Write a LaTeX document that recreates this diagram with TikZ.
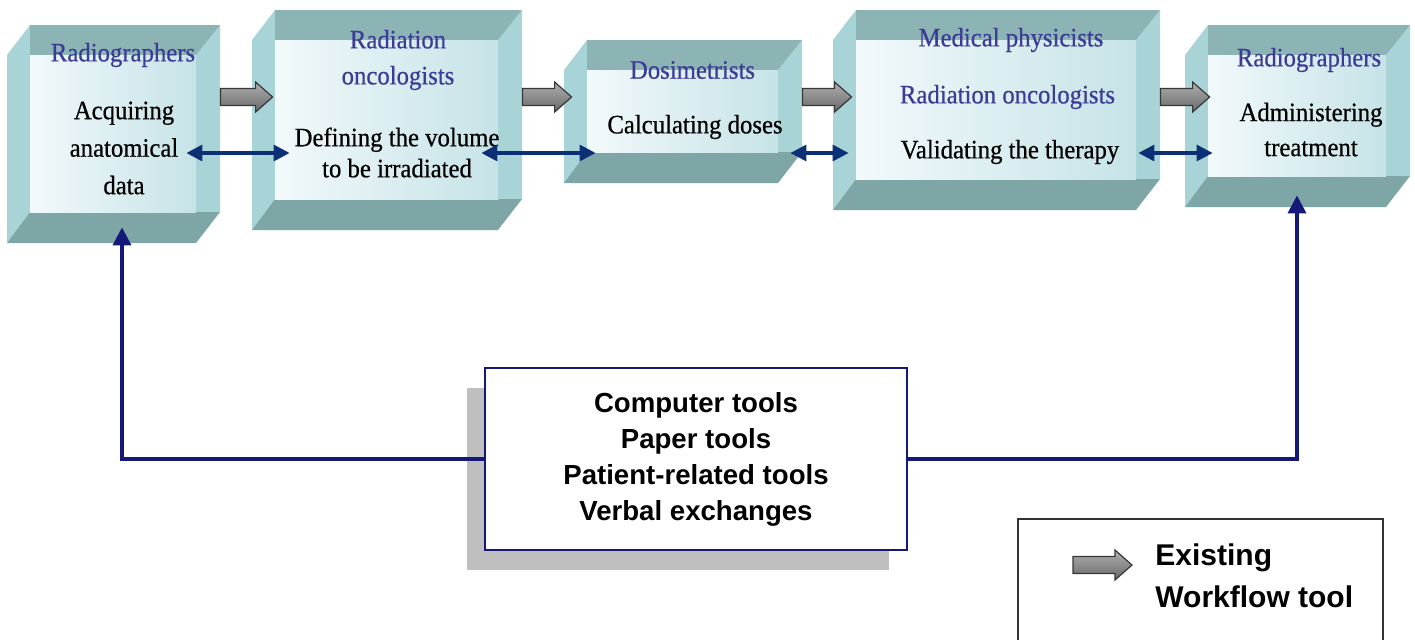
\documentclass[tikz,border=0pt]{standalone}
\usepackage{fontspec}
\usetikzlibrary{calc, fit, shadows, arrows.meta}
\newfontfamily\boxfont[FakeStretch=0.93, FakeBold=0.6]{Liberation Serif}
\newfontfamily\toolfont{Liberation Sans}
\definecolor{facelight}{RGB}{242,249,251}
\definecolor{facedark}{RGB}{198,227,231}
\definecolor{bevelside}{RGB}{168,212,216}
\definecolor{beveltop}{RGB}{140,180,180}
\definecolor{bevelbot}{RGB}{126,166,166}
\definecolor{rolecol}{RGB}{60,60,150}
\definecolor{xchcol}{RGB}{12,48,118}
\definecolor{fbcol}{RGB}{20,24,120}
\definecolor{arrowedge}{RGB}{55,55,55}
\definecolor{graylight}{RGB}{175,175,175}
\definecolor{graydark}{RGB}{105,105,105}

% bevelled box: name, outer top-left x y, outer bottom-right x y (pixels)
\newcommand{\bevelbox}[5]{%
  \fill[bevelside] (#2,#3+30) -- (#2+23,#3) -- (#2+23,#5-31) -- (#2,#5) -- cycle;
  \fill[bevelside] (#4,#3) -- (#4,#5-31) -- (#4-24,#5-31) -- (#4-24,#3+30) -- cycle;
  \fill[beveltop] (#2+23,#3) -- (#4,#3) -- (#4-24,#3+30) -- (#2+23,#3+30) -- cycle;
  \fill[bevelbot] (#2,#5) -- (#4-24,#5) -- (#4,#5-31) -- (#2+23,#5-31) -- cycle;
  \node[face, fit={(#2+23,#3+30) (#4-24,#5-31)}] (#1) {};
}

\begin{document}
\begin{tikzpicture}[x=0.5pt, y=-0.5pt,
  face/.style={inner sep=0pt, left color=facelight, right color=facedark},
  role/.style={font=\boxfont\fontsize{13.3pt}{#1}\selectfont, text=rolecol, align=center, inner sep=0pt},
  role/.default=18pt,
  task/.style={font=\boxfont\fontsize{13.3pt}{#1}\selectfont, align=center, inner sep=0pt},
  task/.default=18pt,
  blockarrow/.style 2 args={draw=arrowedge, line width=0.6pt, top color=graylight, bottom color=graydark,
    to path={let \p1=(\tikztostart), \p2=(\tikztotarget) in
      (\x1+#1,\y1+4.25pt) -- (\x2+#2-8.5pt,\y1+4.25pt) -- (\x2+#2-8.5pt,\y1+7.5pt) -- (\x2+#2,\y1)
      -- (\x2+#2-8.5pt,\y1-7.5pt) -- (\x2+#2-8.5pt,\y1-4.25pt) -- (\x1+#1,\y1-4.25pt) -- cycle}},
  xchange/.style={<->, >={Triangle[length=8pt,width=8pt]}, line width=1.6pt, xchcol},
  feedback/.style={->, >={Triangle[length=9pt,width=9pt]}, line width=1.8pt, fbcol},
  toolsbox/.style={draw=fbcol, line width=1pt, fill=white, minimum width=211pt, minimum height=91pt,
    align=center, font=\toolfont\bfseries\fontsize{13.8pt}{18pt}\selectfont,
    drop shadow={shadow xshift=-9pt, shadow yshift=-10pt, fill=black!25, opacity=1}},
  legendbox/.style={draw=black!80, line width=1pt, minimum width=182.5pt, minimum height=81pt},
  legendtext/.style={font=\toolfont\bfseries\fontsize{15pt}{21pt}\selectfont, align=left, inner sep=0pt}]
\clip (0,0) rectangle (1415,639);
\fill[white] (0,0) rectangle (1415,639);
% Workflow steps
\bevelbox{b1}{7}{25}{220}{243}
\bevelbox{b2}{252}{10}{522}{230}
\bevelbox{b3}{564}{40}{802}{183}
\bevelbox{b4}{833}{10}{1160}{210}
\bevelbox{b5}{1185}{25}{1410}{207}
\node[role] (r1) at (123,55) {Radiographers};
\node[task=18.75pt] (t1) at (124,148) {Acquiring\\anatomical\\data};
\node[role=18pt] (r2) at (398,60) {Radiation\\oncologists};
\node[task=15.5pt] (t2) at (397,152.5) {Defining the volume\\to be irradiated};
\node[role] (r3) at (692.5,70) {Dosimetrists};
\node[task] (t3) at (695,127) {Calculating doses};
\node[role] (r4a) at (1011,40) {Medical physicists};
\node[role] (r4b) at (1007.5,97) {Radiation oncologists};
\node[task] (t4) at (1010,152) {Validating the therapy};
\node[role] (r5) at (1309,60) {Radiographers};
\node[task=17.5pt] (t5) at (1311,129.5) {Administering\\treatment};
% Arrows
\coordinate (toprow) at (0,97);
\coordinate (lowrow) at (0,153);
\foreach \a/\b/\e in {b1/b2/-1pt, b2/b3/-7.5pt, b3/b4/-2pt, b4/b5/1pt}
  \draw[blockarrow={12pt}{\e}] (\a.east |- toprow) to (\b.west |- toprow);
\foreach \a/\b/\s/\e in {b1/b2/-5pt/-7.5pt, b2/b3/-8.5pt/-4.5pt, b3/b4/6pt/3.5pt, b4/b5/1pt/-2.5pt}
  \draw[xchange, shorten <=\s, shorten >=\e] (\a.east |- lowrow) -- (\b.west |- lowrow);
% Tools
\node[toolsbox] (tools) at (696,459) {Computer tools\\Paper tools\\Patient-related tools\\Verbal exchanges};
\draw[feedback, shorten >=7.5pt] (tools.west) -| ([xshift=4.5pt]b1.south);
\draw[feedback, shorten >=9.5pt] (tools.east) -| (b5.south);
% Legend
\node[legendbox] (legend) at (1200.5,600) {};
\coordinate (legtail) at (1073,565);
\coordinate (leghead) at (1132,565);
\draw[blockarrow={0pt}{0pt}] (legtail) to (leghead);
\node[legendtext, anchor=west] (legtext) at (1155,576) {Existing\\Workflow tool};
\end{tikzpicture}
\end{document}
